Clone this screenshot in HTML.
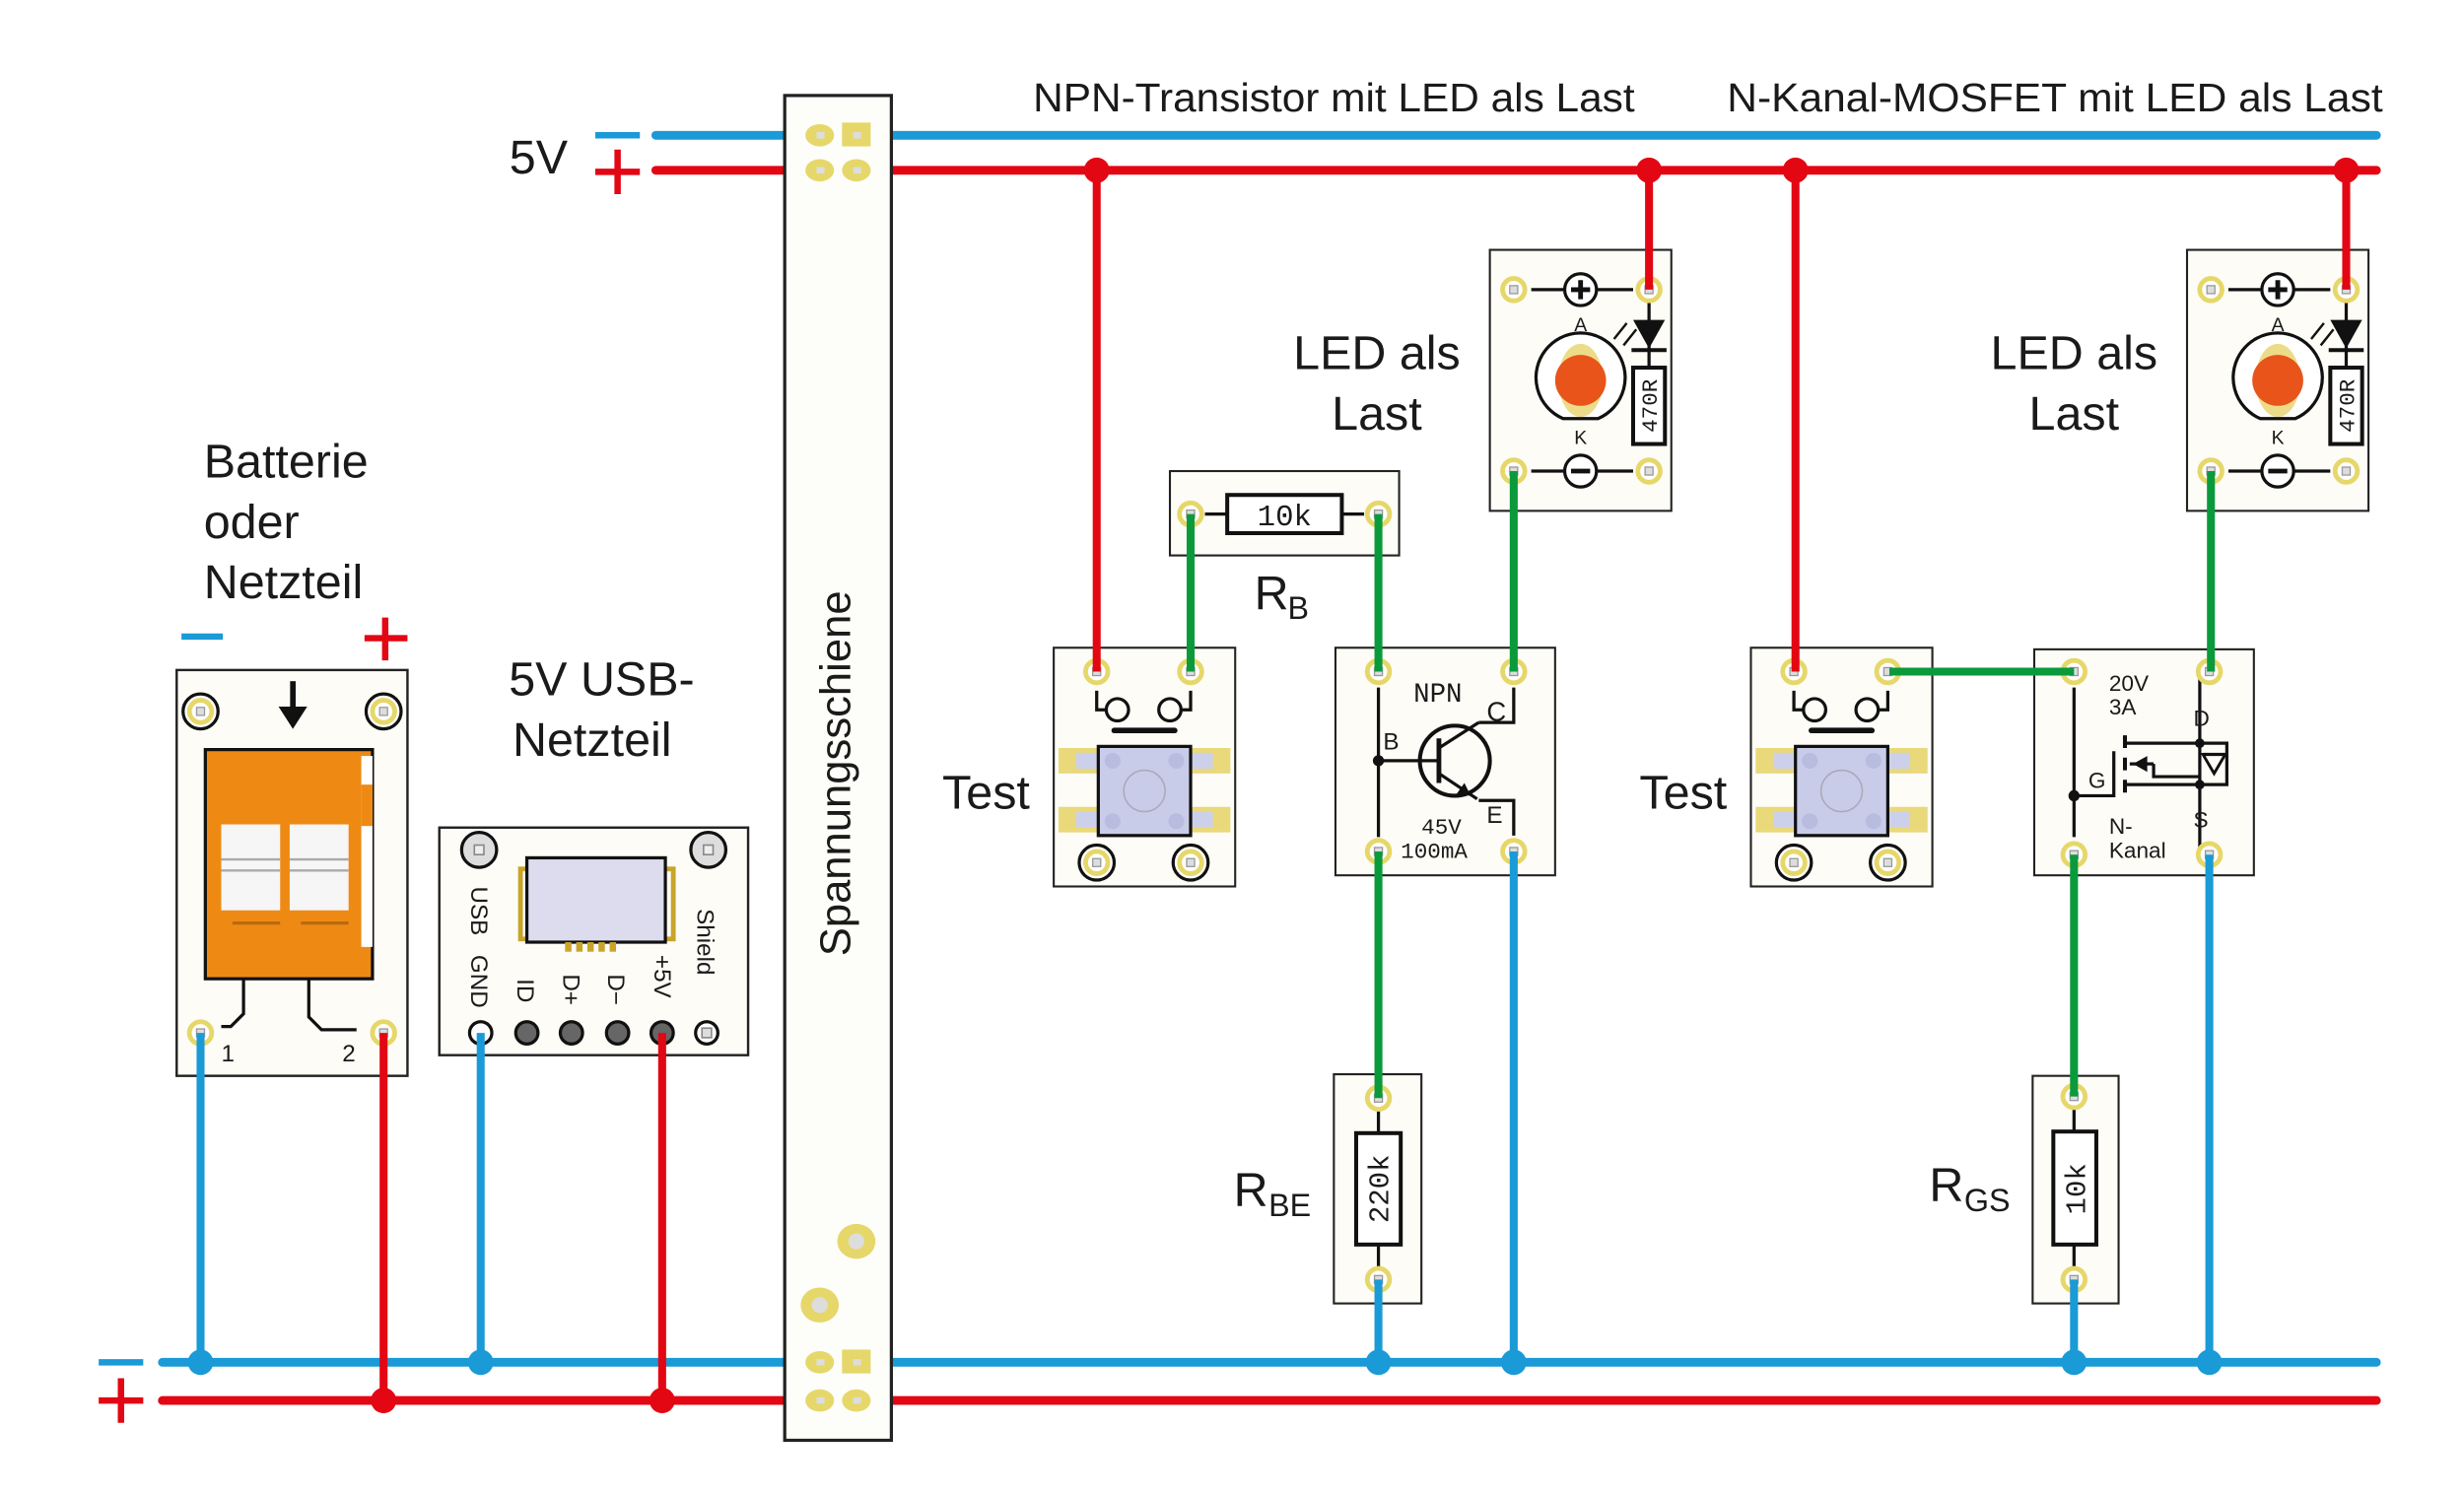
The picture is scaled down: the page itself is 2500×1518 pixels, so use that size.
<!DOCTYPE html>
<html><head><meta charset="utf-8"><style>
html,body{margin:0;padding:0;background:#fff;}
svg{display:block;}
text{font-family:"Liberation Sans",sans-serif;fill:#1a1a1a;}
.mono{font-family:"Liberation Mono",monospace;}
.nar{font-family:"Liberation Sans Narrow","Liberation Sans",sans-serif;}
</style></head><body>
<svg width="2500" height="1518" viewBox="0 0 1548 940" preserveAspectRatio="none" xmlns="http://www.w3.org/2000/svg">
<defs>
<g id="pad"><circle r="7" fill="#fff" stroke="#e6d76a" stroke-width="3"/><rect x="-2.5" y="-2.5" width="5" height="5" fill="#ddd" stroke="#999" stroke-width="0.8"/></g>
<g id="pad2"><circle r="11" fill="#fff" stroke="#111" stroke-width="2"/><use href="#pad"/></g>
<g id="ledmod">
<rect x="0" y="0" width="114" height="164" fill="#fdfcf6" stroke="#222" stroke-width="1.3"/>
<line x1="26" y1="25" x2="90" y2="25" stroke="#111" stroke-width="2"/>
<line x1="26" y1="139" x2="90" y2="139" stroke="#111" stroke-width="2"/>
<circle cx="57" cy="25" r="10" fill="#fff" stroke="#111" stroke-width="2"/>
<path d="M51 25h12M57 19v12" stroke="#111" stroke-width="3"/>
<circle cx="57" cy="139" r="10" fill="#fff" stroke="#111" stroke-width="2"/>
<path d="M51 139h12" stroke="#111" stroke-width="3"/>
<path d="M46 106 A28 28 0 1 1 68 106 Z" fill="#fff" stroke="#111" stroke-width="2"/>
<ellipse cx="57" cy="82" rx="14" ry="23" fill="#ecdc8a"/>
<circle cx="57" cy="82" r="16" fill="#e8541a"/>
<line x1="100" y1="32" x2="100" y2="122" stroke="#111" stroke-width="2"/>
<path d="M90 44 L110 44 L100 62 Z" fill="#111"/>
<line x1="89" y1="63" x2="111" y2="63" stroke="#111" stroke-width="2.5"/>
<path d="M78 56 l8 -10 M84 60 l8 -10" stroke="#111" stroke-width="1.5"/>
<rect x="90" y="74" width="20" height="48" fill="#fff" stroke="#111" stroke-width="2.5"/>
<text x="57" y="51" font-size="12" text-anchor="middle">A</text>
<text x="57" y="122" font-size="12" text-anchor="middle">K</text>
<text class="mono" transform="translate(105 98) rotate(-90)" font-size="14" text-anchor="middle">470R</text>
<use href="#pad" x="15" y="25"/><use href="#pad" x="100" y="25"/><use href="#pad" x="15" y="139"/><use href="#pad" x="100" y="139"/>
</g>
<g id="testmod">
<rect x="0" y="0" width="114" height="150" fill="#fdfcf6" stroke="#222" stroke-width="1.3"/>
<path d="M27 27v12h7 M86 27v12h-7" stroke="#111" stroke-width="2" fill="none"/>
<circle cx="40" cy="39" r="7" fill="none" stroke="#111" stroke-width="2"/>
<circle cx="73" cy="39" r="7" fill="none" stroke="#111" stroke-width="2"/>
<line x1="38" y1="52" x2="76" y2="52" stroke="#111" stroke-width="3.5" stroke-linecap="round"/>
<rect x="3" y="63" width="26" height="16" fill="#e9d97a"/><rect x="85" y="63" width="26" height="16" fill="#e9d97a"/>
<rect x="3" y="100" width="26" height="16" fill="#e9d97a"/><rect x="85" y="100" width="26" height="16" fill="#e9d97a"/>
<rect x="14" y="66" width="86" height="10" fill="#cdd0ea"/><rect x="14" y="103" width="86" height="10" fill="#cdd0ea"/>
<rect x="28" y="62" width="58" height="56" fill="#c9cce9" stroke="#111" stroke-width="2"/>
<circle cx="57" cy="90" r="13" fill="none" stroke="#aab" stroke-width="1"/>
<circle cx="37" cy="71" r="5" fill="#b8bcdf"/><circle cx="77" cy="71" r="5" fill="#b8bcdf"/>
<circle cx="37" cy="109" r="5" fill="#b8bcdf"/><circle cx="77" cy="109" r="5" fill="#b8bcdf"/>
<use href="#pad2" x="27" y="135"/><use href="#pad2" x="86" y="135"/>
<use href="#pad" x="27" y="15"/><use href="#pad" x="86" y="15"/>
</g>
</defs>

<!-- rails -->
<g stroke-linecap="round" stroke-width="5.5">
<line x1="412" y1="85" x2="1493" y2="85" stroke="#1a9ad6"/>
<line x1="412" y1="107" x2="1493" y2="107" stroke="#e30613"/>
<line x1="102" y1="856" x2="1493" y2="856" stroke="#1a9ad6"/>
<line x1="102" y1="880" x2="1493" y2="880" stroke="#e30613"/>
</g>
<text x="320" y="109" font-size="30">5V</text>
<path d="M374 85h28" stroke="#1a9ad6" stroke-width="4"/>
<path d="M374 108h28M388 94v28" stroke="#e30613" stroke-width="4"/>
<path d="M62 856h28" stroke="#1a9ad6" stroke-width="4"/>
<path d="M62 880h28M76 866v28" stroke="#e30613" stroke-width="4"/>
<text class="nar" x="649" y="70" font-size="25" textLength="378" lengthAdjust="spacingAndGlyphs">NPN-Transistor mit LED als Last</text>
<text class="nar" x="1085" y="70" font-size="25" textLength="412" lengthAdjust="spacingAndGlyphs">N-Kanal-MOSFET mit LED als Last</text>

<!-- Spannungsschiene -->
<rect x="493" y="60" width="67" height="845" fill="#fdfdf9" stroke="#222" stroke-width="2"/>
<g fill="#e6d76a">
<ellipse cx="515" cy="85" rx="9" ry="7"/><rect x="529" y="77" width="18" height="15"/>
<ellipse cx="515" cy="107" rx="9" ry="7"/><ellipse cx="538" cy="107" rx="9" ry="7"/>
<ellipse cx="515" cy="856" rx="9" ry="7"/><rect x="529" y="848" width="18" height="15"/>
<ellipse cx="515" cy="880" rx="9" ry="7"/><ellipse cx="538" cy="880" rx="9" ry="7"/>
<ellipse cx="538" cy="780" rx="12" ry="11"/><ellipse cx="515" cy="820" rx="12" ry="11"/>
</g>
<g fill="#ddd"><circle cx="538" cy="780" r="5"/><circle cx="515" cy="820" r="5"/>
<rect x="513" y="83" width="5" height="4"/><rect x="536" y="83" width="5" height="4"/><rect x="513" y="105" width="5" height="4"/><rect x="536" y="105" width="5" height="4"/>
<rect x="513" y="854" width="5" height="4"/><rect x="536" y="854" width="5" height="4"/><rect x="513" y="878" width="5" height="4"/><rect x="536" y="878" width="5" height="4"/></g>
<text class="nar" transform="translate(534 486) rotate(-90)" font-size="27" text-anchor="middle">Spannungsschiene</text>

<!-- Battery -->
<text x="128" y="300" font-size="30">Batterie</text>
<text x="128" y="338" font-size="30">oder</text>
<text x="128" y="376" font-size="30">Netzteil</text>
<path d="M114 400h26" stroke="#1a9ad6" stroke-width="4"/>
<path d="M229 401h27M242 388v27" stroke="#e30613" stroke-width="4"/>
<rect x="111" y="421" width="145" height="255" fill="#fdfcf6" stroke="#222" stroke-width="1.5"/>
<path d="M184 428v20" stroke="#111" stroke-width="3.5"/><path d="M175 444h18l-9 14z" fill="#111"/>
<rect x="129" y="471" width="105" height="144" fill="#ee8a14" stroke="#111" stroke-width="2"/>
<rect x="227" y="475" width="7" height="120" fill="#fff"/><rect x="227" y="493" width="7" height="26" fill="#ee8a14"/>
<rect x="139" y="518" width="37" height="54" fill="#f6f6f6"/><rect x="182" y="518" width="37" height="54" fill="#f6f6f6"/>
<path d="M139 540h37M139 547h37M182 540h37M182 547h37" stroke="#aaa" stroke-width="1.5"/>
<path d="M146 580h30M189 580h30" stroke="#b86a10" stroke-width="2"/>
<path d="M153 615v22l-8 8h-6 M194 615v24l8 8h22" stroke="#111" stroke-width="2" fill="none"/>
<use href="#pad2" x="126" y="447"/><use href="#pad2" x="241" y="447"/>
<use href="#pad" x="126" y="649"/><use href="#pad" x="241" y="649"/>
<text x="139" y="667" font-size="15">1</text><text x="215" y="667" font-size="15">2</text>

<!-- USB -->
<text x="378" y="437" font-size="30" text-anchor="middle">5V USB-</text>
<text x="372" y="475" font-size="30" text-anchor="middle">Netzteil</text>
<rect x="276" y="520" width="194" height="143" fill="#fdfcf6" stroke="#222" stroke-width="1.5"/>
<circle cx="301" cy="534" r="11" fill="#ddd" stroke="#111" stroke-width="2"/><rect x="298" y="531" width="6" height="6" fill="#eee" stroke="#888"/>
<circle cx="445" cy="534" r="11" fill="#ddd" stroke="#111" stroke-width="2"/><rect x="442" y="531" width="6" height="6" fill="#eee" stroke="#888"/>
<rect x="327" y="546" width="96" height="44" fill="none" stroke="#c9a42a" stroke-width="3"/>
<rect x="331" y="539" width="87" height="53" fill="#dcdcee" stroke="#111" stroke-width="2"/>
<g fill="#c9a42a"><rect x="355" y="592" width="4" height="6"/><rect x="362" y="592" width="4" height="6"/><rect x="369" y="592" width="4" height="6"/><rect x="376" y="592" width="4" height="6"/><rect x="383" y="592" width="4" height="6"/></g>
<g class="mono" font-size="15">
<text transform="translate(296 557) rotate(90)">USB</text>
<text transform="translate(296 600) rotate(90)">GND</text>
<text transform="translate(325 615) rotate(90)">ID</text>
<text transform="translate(354 612) rotate(90)">D+</text>
<text transform="translate(382 612) rotate(90)">D−</text>
<text transform="translate(411 600) rotate(90)">+5V</text>
<text transform="translate(438 571) rotate(90)">Shield</text>
</g>
<g fill="#666" stroke="#111" stroke-width="2"><circle cx="331" cy="649" r="7"/><circle cx="359" cy="649" r="7"/><circle cx="388" cy="649" r="7"/><circle cx="416" cy="649" r="7"/></g>
<circle cx="302" cy="649" r="7" fill="#fff" stroke="#111" stroke-width="2"/>
<circle cx="444" cy="649" r="7" fill="#fff" stroke="#111" stroke-width="2"/><rect x="441" y="646" width="6" height="6" fill="#ddd" stroke="#888"/>

<!-- NPN section modules -->
<use href="#testmod" x="662" y="407"/>
<rect x="735" y="296" width="144" height="53" fill="#fdfcf6" stroke="#222" stroke-width="1.3"/>
<path d="M757 323h14M843 323h14" stroke="#111" stroke-width="2"/>
<rect x="771" y="311" width="72" height="24" fill="#fff" stroke="#111" stroke-width="2.5"/>
<text class="mono" x="807" y="330" font-size="19" text-anchor="middle">10k</text>
<use href="#pad" x="748" y="323"/><use href="#pad" x="866" y="323"/>
<text x="788" y="383" font-size="30">R</text><text x="809" y="389" font-size="20">B</text>
<text x="865" y="232" font-size="30" text-anchor="middle">LED als</text>
<text x="865" y="270" font-size="30" text-anchor="middle">Last</text>
<use href="#ledmod" x="936" y="157"/>
<!-- NPN module -->
<rect x="839" y="407" width="138" height="143" fill="#fdfcf6" stroke="#222" stroke-width="1.3"/>
<path d="M866 432v94 M866 478h38 M951 432v22h-22 M951 525v-22h-22" stroke="#111" stroke-width="2" fill="none"/>
<circle cx="866" cy="478" r="3.5" fill="#111"/>
<circle cx="914" cy="478" r="22" fill="none" stroke="#111" stroke-width="2.5"/>
<path d="M904 464v28" stroke="#111" stroke-width="3"/>
<path d="M904 470l25 -16 M904 486l24 16" stroke="#111" stroke-width="2"/>
<path d="M924 500l-9 -1 5 -7z" fill="#111"/>
<text class="mono" x="888" y="441" font-size="17">NPN</text>
<text x="934" y="453" font-size="17">C</text>
<text x="869" y="471" font-size="15">B</text>
<text x="934" y="517" font-size="15">E</text>
<text class="mono" x="893" y="524" font-size="14">45V</text>
<text class="mono" x="880" y="539" font-size="14">100mA</text>
<use href="#pad" x="866" y="422"/><use href="#pad" x="951" y="422"/><use href="#pad" x="866" y="535"/><use href="#pad" x="951" y="535"/>
<text x="592" y="508" font-size="30">Test</text>
<!-- RBE -->
<rect x="838" y="675" width="55" height="144" fill="#fdfcf6" stroke="#222" stroke-width="1.3"/>
<path d="M866 698v14M866 782v14" stroke="#111" stroke-width="2"/>
<rect x="852" y="712" width="28" height="70" fill="#fff" stroke="#111" stroke-width="2.5"/>
<text class="mono" transform="translate(872 747) rotate(-90)" font-size="18" text-anchor="middle">220k</text>
<use href="#pad" x="866" y="690"/><use href="#pad" x="866" y="804"/>
<text x="775" y="758" font-size="30">R</text><text x="797" y="764" font-size="20">BE</text>

<!-- MOSFET section -->
<use href="#testmod" x="1100" y="407"/>
<text x="1030" y="508" font-size="30">Test</text>
<text x="1303" y="232" font-size="30" text-anchor="middle">LED als</text>
<text x="1303" y="270" font-size="30" text-anchor="middle">Last</text>
<use href="#ledmod" x="1374" y="157"/>
<rect x="1278" y="408" width="138" height="142" fill="#fdfcf6" stroke="#222" stroke-width="1.3"/>
<path d="M1303 432v94 M1303 500h25v-28 M1388 425h-6v59 M1388 534h-6v-59" stroke="#111" stroke-width="2" fill="none"/>
<path d="M1335 470v-8 M1335 476v8 M1335 490v8" stroke="#111" stroke-width="2.5"/>
<path d="M1335 467h47 M1335 493h47 M1338 480h15 M1382 467h17v26h-17" stroke="#111" stroke-width="2" fill="none"/>
<path d="M1340 480l9 -5v10z" fill="#111"/>
<path d="M1353 480v8h29" stroke="#111" stroke-width="2" fill="none"/>
<path d="M1384 474h14l-7 12z" fill="none" stroke="#111" stroke-width="1.8"/><path d="M1384 474h14" stroke="#111" stroke-width="2"/>
<circle cx="1303" cy="500" r="3.5" fill="#111"/><circle cx="1382" cy="467" r="3" fill="#111"/><circle cx="1382" cy="493" r="3" fill="#111"/>
<text x="1325" y="434" font-size="14">20V</text><text x="1325" y="449" font-size="14">3A</text>
<text x="1378" y="456" font-size="14">D</text><text x="1312" y="495" font-size="14">G</text><text x="1378" y="520" font-size="14">S</text>
<text x="1325" y="524" font-size="14">N-</text><text x="1325" y="539" font-size="14">Kanal</text>
<use href="#pad" x="1303" y="422"/><use href="#pad" x="1388" y="422"/><use href="#pad" x="1303" y="537"/><use href="#pad" x="1388" y="537"/>
<rect x="1277" y="676" width="54" height="143" fill="#fdfcf6" stroke="#222" stroke-width="1.3"/>
<path d="M1303 697v14M1303 782v14" stroke="#111" stroke-width="2"/>
<rect x="1290" y="711" width="27" height="71" fill="#fff" stroke="#111" stroke-width="2.5"/>
<text class="mono" transform="translate(1310 747) rotate(-90)" font-size="18" text-anchor="middle">10k</text>
<use href="#pad" x="1303" y="689"/><use href="#pad" x="1303" y="804"/>
<text x="1212" y="755" font-size="30">R</text><text x="1234" y="761" font-size="20">GS</text>

<!-- wires -->
<g stroke-width="5" fill="none">
<path d="M126 649V856 M302 649V856 M866 804V856 M951 535V856 M1303 804V856 M1388 537V856" stroke="#1a9ad6"/>
<path d="M241 649V880 M416 649V880 M689 107V422 M1036 107V182 M1128 107V422 M1474 107V182" stroke="#e30613"/>
<path d="M748 323V422 M866 323V422 M951 296V422 M866 535V690 M1389 296V422 M1187 422H1303 M1303 537V689" stroke="#0a9a3c"/>
</g>
<g fill="#1a9ad6"><circle cx="126" cy="856" r="8"/><circle cx="302" cy="856" r="8"/><circle cx="866" cy="856" r="8"/><circle cx="951" cy="856" r="8"/><circle cx="1303" cy="856" r="8"/><circle cx="1388" cy="856" r="8"/></g>
<g fill="#e30613"><circle cx="241" cy="880" r="8"/><circle cx="416" cy="880" r="8"/><circle cx="689" cy="107" r="8"/><circle cx="1036" cy="107" r="8"/><circle cx="1128" cy="107" r="8"/><circle cx="1474" cy="107" r="8"/></g>
</svg>
</body></html>
